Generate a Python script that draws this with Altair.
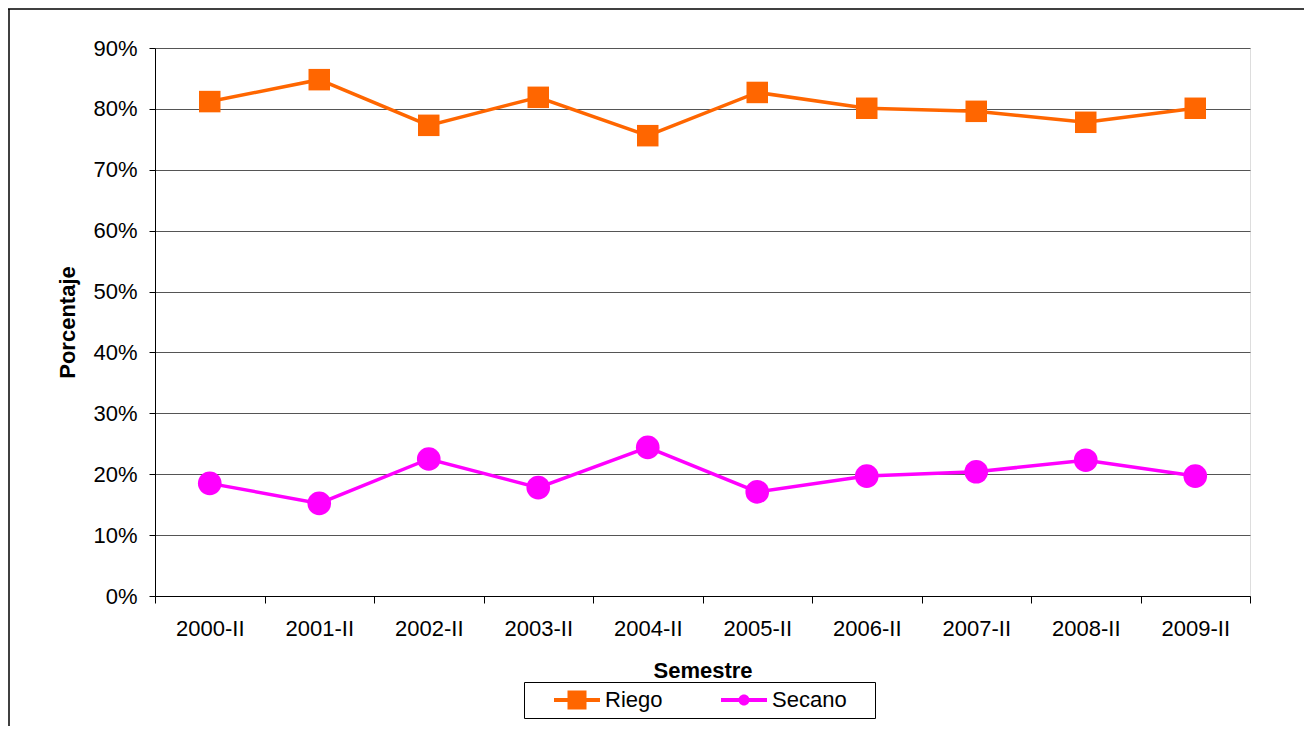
import altair as alt
import pandas as pd

periods = ["2000-II", "2001-II", "2002-II", "2003-II", "2004-II",
           "2005-II", "2006-II", "2007-II", "2008-II", "2009-II"]
riego = [81.2, 84.8, 77.3, 81.9, 75.6, 82.7, 80.1, 79.6, 77.8, 80.1]
secano = [18.5, 15.2, 22.5, 17.8, 24.4, 17.1, 19.7, 20.4, 22.3, 19.7]
series_names = ["Riego", "Secano"]
series_colors = ["#FF6600", "#FF00FF"]

# legend symbols: line segment with the marker on it (unit = 10 px)
riego_path = "M-2.3,-0.2H2.3V0.2H-2.3Z M-0.95,-0.95H0.95V0.95H-0.95Z"
secano_path = ("M-2.3,-0.2H2.3V0.2H-2.3Z M-0.55,0A0.55,0.55 0 1,1 0.55,0"
               "A0.55,0.55 0 1,1 -0.55,0Z")

df = pd.DataFrame({
    "Semestre": periods * 2,
    "Serie": ["Riego"] * len(periods) + ["Secano"] * len(periods),
    "Valor": riego + secano,
})

FONT = "Liberation Sans"

x_enc = alt.X(
    "Semestre:N", sort=periods,
    scale=alt.Scale(type="band", paddingInner=0, paddingOuter=0),
    axis=alt.Axis(
        title="Semestre", tickBand="extent", grid=False,
        domainColor="black", tickColor="black", tickSize=7,
        labelFontSize=22, labelFont=FONT, labelColor="black", labelAngle=0,
        labelPadding=15,
        titleFontSize=22, titleFont=FONT, titleFontWeight="bold",
        titleColor="black", titleY=74, titleBaseline="middle",
    ),
)
y_enc = alt.Y(
    "Valor:Q",
    scale=alt.Scale(domain=[0, 90], nice=False, zero=True),
    axis=alt.Axis(
        title="Porcentaje", values=list(range(0, 91, 10)),
        labelExpr="datum.value + '%'",
        grid=True, gridColor="#555555", gridWidth=1,
        domainColor="black", tickColor="black", tickSize=6,
        labelFontSize=22, labelFont=FONT, labelColor="black", labelPadding=12,
        titleFontSize=22, titleFont=FONT, titleFontWeight="bold",
        titleColor="black", titleX=-88, titleY=274, titleAngle=270,
        titleAlign="center", titleBaseline="middle",
    ),
)

base = alt.Chart(df)

layers = []
shapes = {"Riego": ("square", 462), "Secano": ("circle", 560)}
for name, col in zip(series_names, series_colors):
    sub = base.transform_filter(f"datum.Serie == '{name}'")
    layers.append(sub.mark_line(strokeWidth=3.5, color=col).encode(x=x_enc, y=y_enc))
    shp, sz = shapes[name]
    layers.append(sub.mark_point(filled=True, opacity=1, size=sz, shape=shp,
                                 color=col).encode(x=x_enc, y=y_enc))

legend_layer = base.transform_filter("false").mark_point(
    filled=True, opacity=1, size=400
).encode(
    x=x_enc, y=y_enc,
    color=alt.Color("Serie:N", scale=alt.Scale(domain=series_names, range=series_colors),
                    legend=alt.Legend(
        title="\u00a0", titleOrient="right", titlePadding=21, titleFontSize=22,
        titleFont=FONT,
        orient="none", legendX=369, legendY=634,
        direction="horizontal", labelFontSize=22, labelFont=FONT,
        labelColor="black", labelOffset=17, columnPadding=35,
        symbolSize=400, symbolStrokeWidth=0, padding=7,
        strokeColor="black", fillColor="white", symbolOffset=35,
    )),
    shape=alt.Shape("Serie:N", scale=alt.Scale(domain=series_names,
                                               range=[riego_path, secano_path])),
)

frame_data = alt.Data(values=[{"a": 1}])
frame_top = alt.Chart(frame_data).mark_rule(color="black", strokeWidth=1.5).encode(
    x=alt.value(-147), x2=alt.value(1250), y=alt.value(-39))
frame_left = alt.Chart(frame_data).mark_rule(color="black", strokeWidth=1.5).encode(
    x=alt.value(-146), y=alt.value(-39), y2=alt.value(800))

chart = alt.layer(
    frame_top, frame_left, *layers, legend_layer
).properties(
    width=1095, height=548,
    autosize=alt.AutoSizeParams(type="none"),
    padding={"left": 147, "top": 40, "right": 54, "bottom": 130},
).configure_view(
    stroke="#8a8a8a", strokeWidth=1.5
).configure(background="white")

chart.save("out.html", embed_options={"renderer": "svg", "actions": False})
